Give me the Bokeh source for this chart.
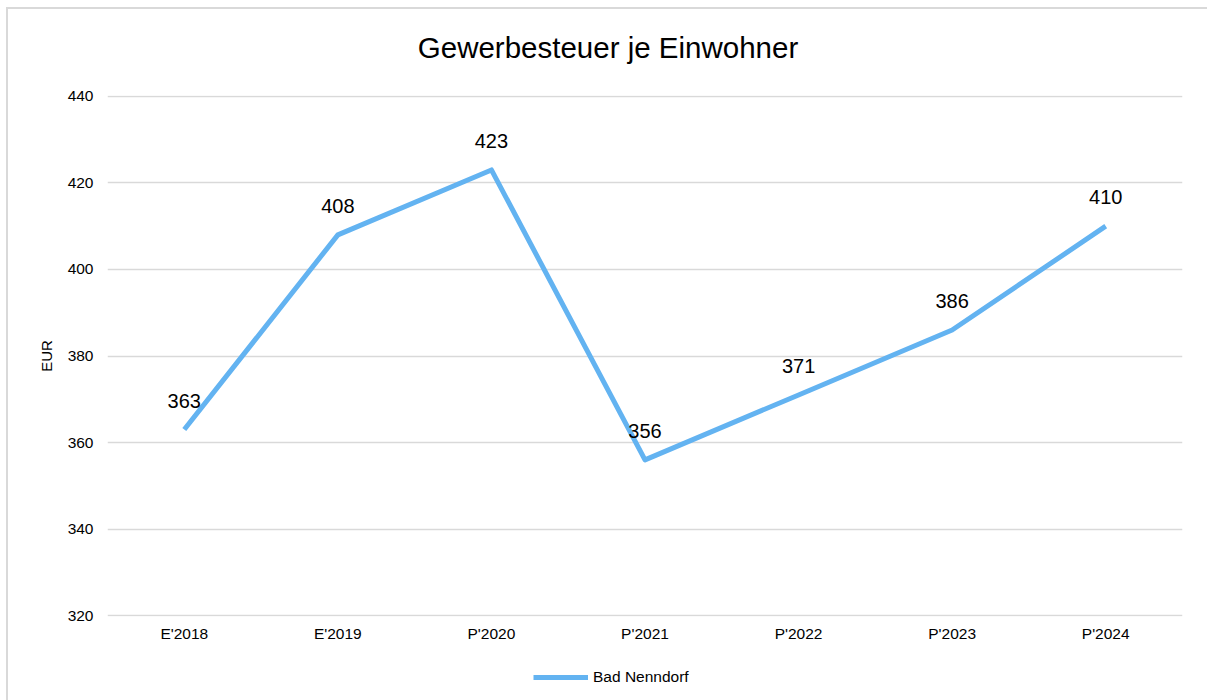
from bokeh.plotting import figure
from bokeh.layouts import column
from bokeh.models import ColumnDataSource, Legend, LegendItem, SingleIntervalTicker, Range1d, FactorRange, Label
from bokeh.core.properties import value
from bokeh.embed import file_html
from bokeh.resources import INLINE

categories = ["E'2018", "E'2019", "P'2020", "P'2021", "P'2022", "P'2023", "P'2024"]
values = [363, 408, 423, 356, 371, 386, 410]
labels = [str(v) for v in values]
series_name = "Bad Nenndorf"
title_text = "Gewerbesteuer je Einwohner"
y_label = "EUR"

FONT = "Liberation Sans"
LINE_COLOR = "#63B3F1"
W = 1199
LEFT = 99  # frame left border (the column aligns all strips' frames to it)

src = ColumnDataSource(dict(x=categories, y=values, lab=labels))

# title strip
p0 = figure(width=W, height=71, x_range=Range1d(0, 1), y_range=Range1d(0, 1),
            output_backend="svg", toolbar_location=None,
            min_border_left=0, min_border_right=0, min_border_top=0, min_border_bottom=0)
p0.axis.visible = False
p0.grid.visible = False
p0.outline_line_color = None
p0.add_layout(Label(x=W / 2 - LEFT, y=33, x_units="screen", y_units="screen", text=title_text,
                    text_font=FONT, text_font_size="29.5px", text_align="center",
                    text_baseline="middle", text_color="#000000"))

p = figure(width=W, height=570, x_range=FactorRange(*categories, range_padding=0),
           y_range=Range1d(319.8, 440.2), output_backend="svg", toolbar_location=None,
           min_border_left=LEFT, min_border_right=25, min_border_top=15, min_border_bottom=34)
p.outline_line_color = None

r = p.line("x", "y", source=src, line_color=LINE_COLOR, line_width=5, line_join="round")
p.text("x", "y", text="lab", source=src, text_font=value(FONT), text_font_size="20px",
       text_align="center", text_baseline="middle", y_offset=-29, text_color="#000000")

p.yaxis.ticker = SingleIntervalTicker(interval=20)
for ax in (p.xaxis[0], p.yaxis[0]):
    ax.axis_line_color = None
    ax.major_tick_line_color = None
    ax.minor_tick_line_color = None
    ax.major_label_text_font = FONT
    ax.major_label_text_font_size = "15.5px"
    ax.major_label_text_color = "#000000"
p.xaxis.major_label_standoff = 2
p.yaxis.major_label_standoff = 8
p.yaxis.axis_label = y_label
p.yaxis.axis_label_text_font = FONT
p.yaxis.axis_label_text_font_size = "15px"
p.yaxis.axis_label_text_font_style = "normal"
p.yaxis.axis_label_text_color = "#000000"
p.yaxis.axis_label_standoff = 10

p.xgrid.grid_line_color = None
p.ygrid.grid_line_color = "#d9d9d9"
p.ygrid.grid_line_width = 1.5

# legend strip below the chart (the series line is outside this strip's view)
p2 = figure(width=W, height=50, x_range=p.x_range, y_range=Range1d(0, 1),
            output_backend="svg", toolbar_location=None,
            min_border_left=0, min_border_right=0, min_border_top=0, min_border_bottom=0)
p2.axis.visible = False
p2.grid.visible = False
p2.outline_line_color = None
r2 = p2.line("x", "y", source=src, line_color=LINE_COLOR, line_width=5)
legend = Legend(items=[LegendItem(label=series_name, renderers=[r2])], location=(426, 13),
                orientation="horizontal", label_text_font=FONT, label_text_font_size="15.5px",
                label_text_color="#000000",
                glyph_width=55, label_standoff=5, border_line_color=None, background_fill_alpha=0,
                padding=2, margin=0)
p2.add_layout(legend)

layout = column(p0, p, p2, spacing=0)
layout.styles = {"margin-left": "6px", "margin-top": "7px",
                 "border-left": "2px solid #d9d9d9", "border-top": "2px solid #d9d9d9"}

open("out.html", "w").write(file_html(layout, INLINE))
